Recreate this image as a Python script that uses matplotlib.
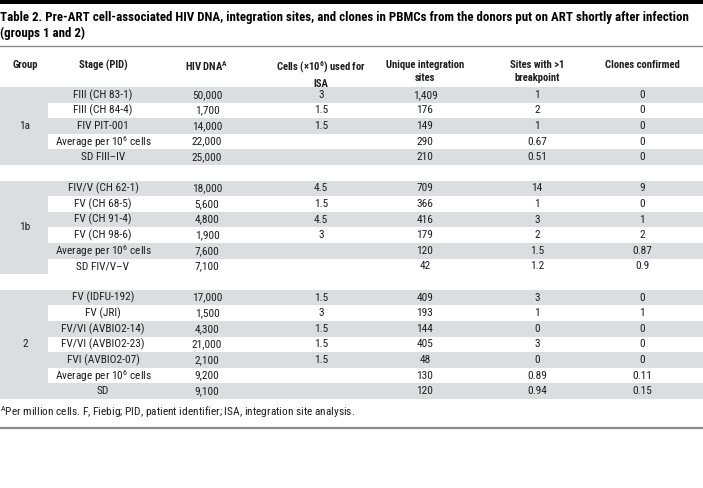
import matplotlib
matplotlib.use('Agg')
import matplotlib.pyplot as plt
from matplotlib import font_manager as fm
from matplotlib.patches import Rectangle

# pick a narrow sans font if one is installed
names = set(f.name for f in fm.fontManager.ttflist)
font = 'Roboto'
for cand in ['Roboto Condensed', 'Liberation Sans Narrow', 'Open Sans Condensed']:
    if cand in names:
        font = cand
        break

plt.rcParams['font.family'] = [font, 'DejaVu Sans']
plt.rcParams['mathtext.fontset'] = 'custom'
plt.rcParams['mathtext.rm'] = font
plt.rcParams['mathtext.bf'] = font + ':bold'
plt.rcParams['mathtext.it'] = font + ':italic'

#%% data
title = ('Table 2. Pre-ART cell-associated HIV DNA, integration sites, and clones in PBMCs from the donors put on ART shortly after infection\n'
         '(groups 1 and 2)')
headers = ['Group', 'Stage (PID)', r'HIV DNA$^{\mathbf{A}}$', 'Cells (×10$^{\\mathbf{6}}$) used for\nISA',
           'Unique integration\nsites', 'Sites with >1\nbreakpoint', 'Clones confirmed']
footnote = r'$^{\mathrm{A}}$Per million cells. F, Fiebig; PID, patient identifier; ISA, integration site analysis.'

groups = ['1a', '1b', '2']

g1a_stage = ['FIII (CH 83-1)', 'FIII (CH 84-4)', 'FIV PIT-001', 'Average per 10$^6$ cells', 'SD FIII–IV']
g1a_hiv = ['50,000', '1,700', '14,000', '22,000', '25,000']
g1a_cells = ['3', '1.5', '1.5', '', '']
g1a_sites = ['1,409', '176', '149', '290', '210']
g1a_bp = ['1', '2', '1', '0.67', '0.51']
g1a_clones = ['0', '0', '0', '0', '0']

g1b_stage = ['FIV/V (CH 62-1)', 'FV (CH 68-5)', 'FV (CH 91-4)', 'FV (CH 98-6)', 'Average per 10$^6$ cells', 'SD FIV/V–V']
g1b_hiv = ['18,000', '5,600', '4,800', '1,900', '7,600', '7,100']
g1b_cells = ['4.5', '1.5', '4.5', '3', '', '']
g1b_sites = ['709', '366', '416', '179', '120', '42']
g1b_bp = ['14', '1', '3', '2', '1.5', '1.2']
g1b_clones = ['9', '0', '1', '2', '0.87', '0.9']

g2_stage = ['FV (IDFU-192)', 'FV (JRI)', 'FV/VI (AVBIO2-14)', 'FV/VI (AVBIO2-23)', 'FVI (AVBIO2-07)',
            'Average per 10$^6$ cells', 'SD']
g2_hiv = ['17,000', '1,500', '4,300', '21,000', '2,100', '9,200', '9,100']
g2_cells = ['1.5', '3', '1.5', '1.5', '1.5', '', '']
g2_sites = ['409', '193', '144', '405', '48', '130', '120']
g2_bp = ['3', '1', '0', '3', '0', '0.89', '0.94']
g2_clones = ['0', '1', '0', '0', '0', '0.11', '0.15']

blocks = [
    (groups[0], [g1a_stage, g1a_hiv, g1a_cells, g1a_sites, g1a_bp, g1a_clones]),
    (groups[1], [g1b_stage, g1b_hiv, g1b_cells, g1b_sites, g1b_bp, g1b_clones]),
    (groups[2], [g2_stage, g2_hiv, g2_cells, g2_sites, g2_bp, g2_clones]),
]

#%% layout (pixel coordinates)
W, H = 703, 488
col_x = [25, 103, 207, 321, 425, 537, 642]
group_w = 48
row_top = 87
pitch = 15.6
gray = '#dcdde0'
txt = '#1e1e1e'
fs = 8.2
fs_head = 7.7
title_w = 690   # width of first title line in the reference

fig = plt.figure(figsize=(W / 100, H / 100), dpi=100)
ax = fig.add_axes([0, 0, 1, 1])
ax.set_xlim(0, W)
ax.set_ylim(H, 0)
ax.axis('off')

# top black bar and rules
ax.add_patch(Rectangle((0, 0), W, 3.5, color='black', lw=0))
ax.plot([0, W], [46, 46], color='#8a8a8a', lw=1.0)
ax.plot([0, W], [428, 428], color='#8a8a8a', lw=1.6)

# title: fit the long first line to the reference width
t1, t2 = title.split('\n')
tt = ax.text(0, 10.5, t1, ha='left', va='top', fontsize=9, fontweight='bold', color='black')
r = fig.canvas.get_renderer()
wpx = tt.get_window_extent(renderer=r).width
tfs = 9 * title_w / wpx
tt.set_fontsize(tfs)
ax.text(0, 26.5, t2, ha='left', va='top', fontsize=tfs, fontweight='bold', color='black')

for j, h in enumerate(headers):
    ax.text(col_x[j], 59.5, h, ha='center', va='top', fontsize=fs_head, fontweight='bold',
            color=txt, linespacing=1.45)

i = 0
for gname, cols in blocks:
    n = len(cols[0])
    y0 = row_top + pitch * i
    ax.add_patch(Rectangle((0, y0), group_w, pitch * n, color=gray, lw=0))
    ax.text(col_x[0], y0 + pitch * n / 2, gname, ha='center', va='center',
            fontsize=fs, color=txt)
    for k in range(n):
        yt = row_top + pitch * (i + k)
        if k % 2 == 0:
            ax.add_patch(Rectangle((group_w, yt), W - group_w, pitch, color=gray, lw=0))
        for c, vals in enumerate(cols):
            ax.text(col_x[c + 1], yt + pitch / 2, vals[k], ha='center', va='center',
                    fontsize=fs, color=txt)
    i += n + 1

ax.text(0, 412, footnote, ha='left', va='center', fontsize=fs, color=txt)

plt.savefig('out.png', dpi=100)
plt.close()
